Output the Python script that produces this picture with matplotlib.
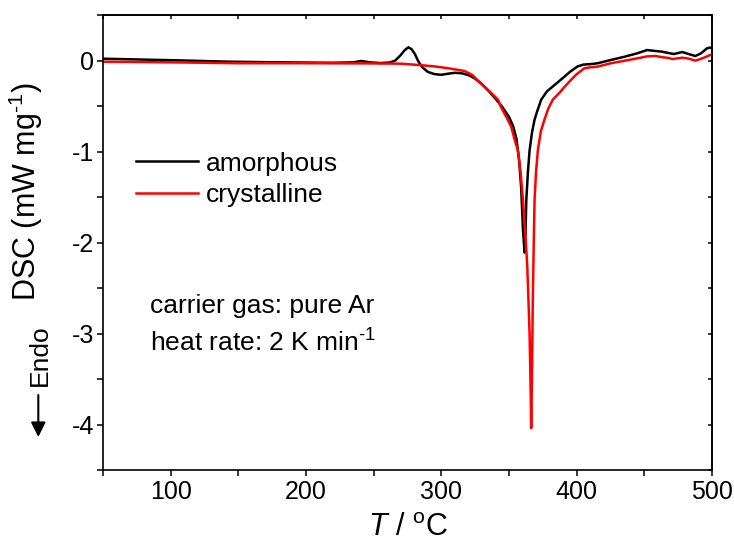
import matplotlib
matplotlib.use("Agg")
import matplotlib.pyplot as plt
from matplotlib.ticker import MultipleLocator

plt.rcParams['font.family'] = ['Liberation Sans', 'DejaVu Sans']
plt.rcParams['mathtext.fontset'] = 'custom'
plt.rcParams['mathtext.rm'] = 'Liberation Sans'
plt.rcParams['mathtext.it'] = 'Liberation Sans:italic'
plt.rcParams['mathtext.default'] = 'regular'
plt.rcParams['axes.unicode_minus'] = False

# amorphous sample
t_amorphous = [50, 80, 110, 143, 180, 220, 235, 241, 247, 255, 262, 266, 270, 273, 275.7,
               278, 280.5, 283, 286, 290, 295, 300, 305, 310, 315, 320, 325, 330, 335,
               340, 345, 350, 353, 355.5, 357.5, 359, 360.3, 361.5, 362.2, 362.8, 364,
               365.2, 367, 368.9, 371, 373.8, 378, 383.6, 390, 395, 400.7, 405, 410,
               415.4, 425, 435, 445, 452, 458, 463, 467, 471.8, 478, 483, 487.7, 492,
               496.3, 500]
dsc_amorphous = [0.02, 0.01, 0.0, -0.013, -0.02, -0.025, -0.02, -0.005, -0.02, -0.028,
                 -0.022, 0.0, 0.06, 0.115, 0.145, 0.125, 0.07, -0.01, -0.075, -0.125,
                 -0.15, -0.157, -0.145, -0.135, -0.14, -0.16, -0.2, -0.26, -0.335,
                 -0.42, -0.51, -0.62, -0.72, -0.86, -1.1, -1.4, -1.85, -2.11, -1.9,
                 -1.53, -1.22, -0.99, -0.79, -0.65, -0.55, -0.43, -0.34, -0.27, -0.19,
                 -0.125, -0.065, -0.045, -0.04, -0.031, 0.005, 0.04, 0.08, 0.115, 0.105,
                 0.097, 0.085, 0.071, 0.093, 0.07, 0.049, 0.08, 0.134, 0.145]

# crystalline sample
t_crystalline = [50, 100, 150, 200, 250, 270, 284, 295, 305, 317, 323, 329, 335, 341.9,
                 344, 348, 351.7, 354, 356.6, 358.5, 360.3, 362, 363.5, 365.2, 366,
                 366.4, 367, 367.6, 368.3, 368.9, 370, 371.3, 373.5, 376.2, 379, 382.4,
                 387, 391, 396, 400, 405.7, 410, 415.4, 425, 440, 452, 458, 463.7, 467,
                 471, 478, 483, 487.7, 493, 500]
dsc_crystalline = [-0.013, -0.02, -0.03, -0.03, -0.032, -0.035, -0.05, -0.065, -0.085,
                   -0.115, -0.16, -0.25, -0.33, -0.43, -0.51, -0.62, -0.73, -0.86, -0.99,
                   -1.22, -1.53, -1.89, -2.26, -2.99, -3.62, -4.04, -3.42, -2.63, -1.99,
                   -1.53, -1.22, -0.99, -0.78, -0.65, -0.53, -0.43, -0.36, -0.29, -0.21,
                   -0.15, -0.086, -0.075, -0.068, -0.031, 0.01, 0.045, 0.05, 0.035, 0.03,
                   0.016, 0.031, 0.02, -0.002, 0.025, 0.068]

series_labels = ['amorphous', 'crystalline']
note_lines = ['carrier gas: pure Ar', 'heat rate: 2 K min$^{\\text{-1}}$']

fig = plt.figure(figsize=(7.34, 5.45), dpi=100)
ax = fig.add_axes([103 / 734, 1 - 470 / 545, 609 / 734, 455 / 545])

ax.plot(t_amorphous, dsc_amorphous, color='black', lw=1.8, label=series_labels[0])
ax.plot(t_crystalline, dsc_crystalline, color='#ff0000', lw=1.8, label=series_labels[1])

ax.set_xlim(50, 500)
ax.set_ylim(-4.5, 0.5)
ax.xaxis.set_major_locator(MultipleLocator(100))
ax.xaxis.set_minor_locator(MultipleLocator(50))
ax.yaxis.set_major_locator(MultipleLocator(1))
ax.yaxis.set_minor_locator(MultipleLocator(0.5))

for s in ax.spines.values():
    s.set_linewidth(1.2)
ax.tick_params(which='both', direction='out', length=4.5, width=1.1,
               labelsize=18, pad=2)
ax.tick_params(axis='x', which='both', pad=3)

# mirrored ticks on top and right, pointing inward
top = ax.secondary_xaxis('top')
top.xaxis.set_major_locator(MultipleLocator(50))
top.tick_params(direction='in', length=3, width=1.1, labeltop=False)
right = ax.secondary_yaxis('right')
right.yaxis.set_major_locator(MultipleLocator(0.5))
right.tick_params(direction='in', length=3, width=1.1, labelright=False)
for sec in (top, right):
    for s in sec.spines.values():
        s.set_linewidth(1.2)

ax.set_xlabel('$\\mathit{T}$ / $^{\\mathrm{o}}$C', fontsize=22, labelpad=6)
ax.set_ylabel('DSC (mW mg$^{\\text{-1}}$)', fontsize=22)
ax.yaxis.set_label_coords(-0.096, 0.612)

leg = ax.legend(loc='upper left', bbox_to_anchor=(0.054, 0.70), frameon=False,
                fontsize=19, handlelength=2.35, handletextpad=0.3,
                labelspacing=0.3, borderpad=0, borderaxespad=0)

ax.text(0.077, 0.346, note_lines[0], transform=ax.transAxes, fontsize=19, va='baseline')
ax.text(0.077, 0.260, note_lines[1], transform=ax.transAxes, fontsize=19, va='baseline')

# endo arrow on the left
fig.text(40 / 734, 1 - 355 / 545, 'Endo', rotation=90, fontsize=19,
         ha='center', va='center')
ax.annotate('', xy=(38.3 / 734, 1 - 437 / 545), xytext=(38.3 / 734, 1 - 395 / 545),
            xycoords='figure fraction', textcoords='figure fraction',
            arrowprops=dict(arrowstyle='-|>', color='black', lw=1.5,
                            mutation_scale=22, shrinkA=0, shrinkB=0))

fig.savefig('out.png', dpi=100)
